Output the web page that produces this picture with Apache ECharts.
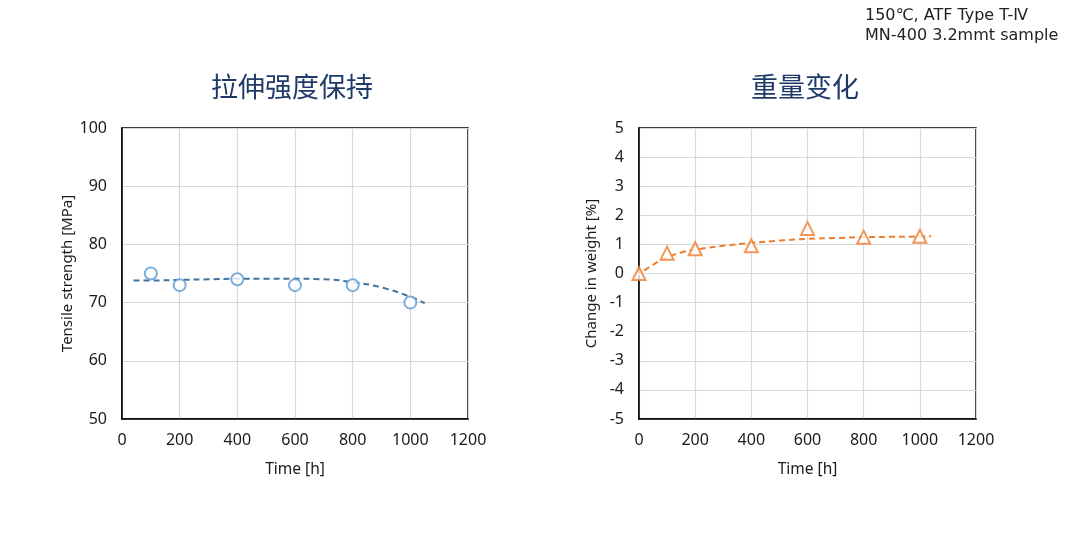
<!DOCTYPE html>
<html>
<head>
<meta charset="utf-8">
<script src="https://cdn.jsdelivr.net/npm/echarts@6/dist/echarts.min.js"></script>
<style>
  html, body { margin: 0; padding: 0; background: #fff; }
  #chart { width: 1080px; height: 535px; }
</style>
</head>
<body>
<div id="chart"></div>
<script>
// tensile strength measurements [h, MPa]
const tensileTime = [100, 200, 400, 600, 800, 1000];
const tensileValue = [75, 73, 74, 73, 73, 70];
// tensile trend line
const tensileTrendTime = [40, 100, 200, 300, 400, 500, 600, 700, 800, 900, 1000, 1050];
const tensileTrendValue = [73.8, 73.8, 73.9, 74.0, 74.1, 74.1, 74.1, 74.0, 73.5, 72.6, 71.0, 69.9];

// weight change measurements [h, %]
const weightTime = [0, 100, 200, 400, 600, 800, 1000];
const weightValue = [0, 0.7, 0.85, 0.95, 1.55, 1.25, 1.28];
// weight trend line
const weightTrendTime = [-10, 50, 100, 150, 200, 300, 400, 500, 600, 700, 800, 900, 1000, 1040];
const weightTrendValue = [-0.1, 0.3, 0.55, 0.72, 0.82, 0.95, 1.05, 1.13, 1.19, 1.22, 1.25, 1.26, 1.27, 1.28];

const tensileTitle = '拉伸强度保持';
const weightTitle = '重量变化';
const noteLines = ['150℃, ATF Type T-Ⅳ', 'MN-400 3.2mmt sample'];

const font = '"Noto Sans", "Open Sans", sans-serif';
const labelColor = '#1a1a1a';

const pair = (xs, ys) => xs.map((x, i) => [x, ys[i]]);

const xAxisBase = {
  type: 'value',
  min: 0,
  max: 1200,
  interval: 200,
  name: 'Time [h]',
  nameLocation: 'middle',
  nameGap: 43,
  nameTextStyle: { fontFamily: font, fontSize: 15.5, color: labelColor },
  axisLine: { show: true, onZero: false, lineStyle: { color: '#000', width: 1.5 } },
  axisTick: { show: false },
  axisLabel: { fontFamily: font, fontSize: 16, color: labelColor, margin: 13, formatter: v => String(v) },
  splitLine: { show: true, lineStyle: { color: '#d9d9d9', width: 1.2 } }
};

const yAxisBase = {
  type: 'value',
  nameLocation: 'middle',
  nameTextStyle: { fontFamily: font, fontSize: 15, color: labelColor },
  axisLine: { show: true, onZero: false, lineStyle: { color: '#000', width: 1.5 } },
  axisTick: { show: false },
  axisLabel: { fontFamily: font, fontSize: 16, color: labelColor, margin: 15 },
  splitLine: { show: true, lineStyle: { color: '#d9d9d9', width: 1.2 } }
};

const chart = echarts.init(document.getElementById('chart'));
chart.setOption({
  backgroundColor: '#fff',
  animation: false,
  title: [
    {
      text: tensileTitle,
      left: 287, top: 68, textAlign: 'center',
      textStyle: { fontFamily: '"Noto Sans CJK SC", sans-serif', fontSize: 27, fontWeight: 'normal', color: '#1f3a68' }
    },
    {
      text: weightTitle,
      left: 800, top: 68, textAlign: 'center',
      textStyle: { fontFamily: '"Noto Sans CJK SC", sans-serif', fontSize: 27, fontWeight: 'normal', color: '#1f3a68' }
    },
    {
      text: noteLines.join('\n'),
      left: 860, top: 1,
      textStyle: { fontFamily: '"DejaVu Sans", sans-serif', fontSize: 16, fontWeight: 'normal', color: '#222', lineHeight: 20 }
    }
  ],
  grid: [
    { left: 122, top: 128, width: 346, height: 291, show: true, borderColor: '#000', borderWidth: 1.5, backgroundColor: 'transparent' },
    { left: 639, top: 128, width: 337, height: 291, show: true, borderColor: '#000', borderWidth: 1.5, backgroundColor: 'transparent' }
  ],
  xAxis: [
    { ...xAxisBase, gridIndex: 0 },
    { ...xAxisBase, gridIndex: 1 }
  ],
  yAxis: [
    { ...yAxisBase, gridIndex: 0, min: 50, max: 100, interval: 10, name: 'Tensile strength [MPa]', nameGap: 43 },
    { ...yAxisBase, gridIndex: 1, min: -5, max: 5, interval: 1, name: 'Change in weight [%]', nameGap: 40 }
  ],
  series: [
    {
      type: 'line', xAxisIndex: 0, yAxisIndex: 0,
      data: pair(tensileTrendTime, tensileTrendValue),
      smooth: true, showSymbol: false, z: 2,
      lineStyle: { color: '#41719c', width: 2, type: [6, 4] }
    },
    {
      type: 'scatter', xAxisIndex: 0, yAxisIndex: 0,
      data: pair(tensileTime, tensileValue),
      symbol: 'circle', symbolSize: 12, z: 3,
      itemStyle: { color: '#fff', borderColor: '#5b9bd5', borderWidth: 2 }
    },
    {
      type: 'line', xAxisIndex: 1, yAxisIndex: 1,
      data: pair(weightTrendTime, weightTrendValue),
      smooth: true, showSymbol: false, z: 2,
      lineStyle: { color: '#ed7d31', width: 2, type: [6, 4] }
    },
    {
      type: 'scatter', xAxisIndex: 1, yAxisIndex: 1,
      data: pair(weightTime, weightValue),
      symbol: 'triangle', symbolSize: 13, z: 3,
      itemStyle: { color: '#fff', borderColor: '#ed7d31', borderWidth: 2 }
    }
  ]
});
</script>
</body>
</html>
